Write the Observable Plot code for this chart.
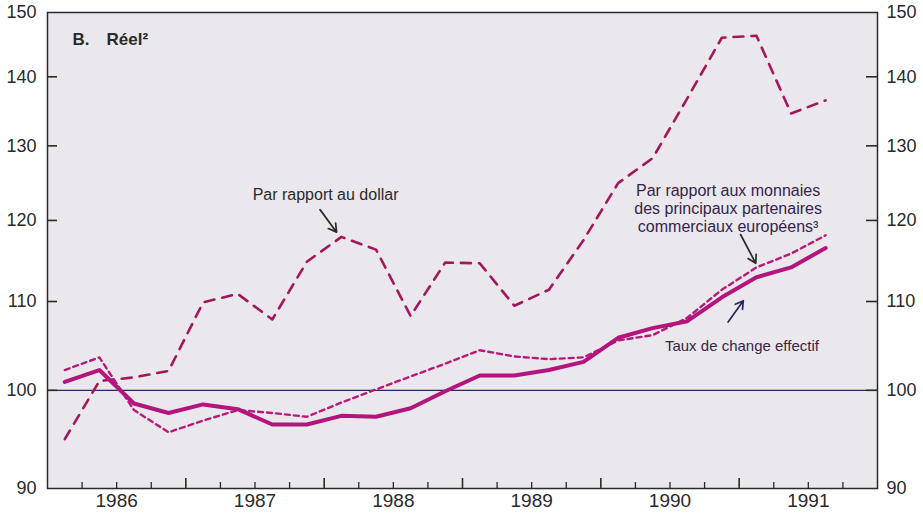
<!DOCTYPE html>
<html><head><meta charset="utf-8">
<script src="https://cdn.jsdelivr.net/npm/d3@7"></script>
<script src="https://cdn.jsdelivr.net/npm/@observablehq/plot@0.6"></script>
<style>
body{margin:0;background:#fff}
#chart{width:923px;height:517px}
</style>
</head><body><div id="chart"></div>
<script>
// Périodes trimestrielles
const periods = ["1986 T1","1986 T2","1986 T3","1986 T4","1987 T1","1987 T2","1987 T3","1987 T4",
  "1988 T1","1988 T2","1988 T3","1988 T4","1989 T1","1989 T2","1989 T3","1989 T4",
  "1990 T1","1990 T2","1990 T3","1990 T4","1991 T1","1991 T2","1991 T3"];
// Taux de change effectif (réel)
const effectif = [100.9,102.2,98.6,97.6,98.5,98.0,96.4,96.4,97.3,97.2,98.1,99.9,101.6,101.6,102.2,103.1,105.8,106.9,107.7,110.5,112.9,114.1,116.5];
// Par rapport aux monnaies des principaux partenaires commerciaux européens
const europe = [102.2,103.6,97.9,95.6,96.8,97.9,97.6,97.2,98.7,100.1,101.5,102.9,104.4,103.7,103.4,103.6,105.5,106.1,108.1,111.4,114.1,115.8,118.1];
// Par rapport au dollar
const dollar = [94.9,101.0,101.4,102.1,109.9,110.9,107.9,114.8,117.9,116.3,108.3,114.7,114.6,109.5,111.4,117.5,124.9,128.3,136.8,146.0,146.3,134.6,136.5];
const yTicks = [90,100,110,120,130,140,150];
const yearLabels = ["1986","1987","1988","1989","1990","1991"];

const toX = p => { const [y, q] = p.split(" T"); return +y + (+q - 0.5) / 4; };
const rows = periods.map((p, i) => ({x: toX(p), effectif: effectif[i], europe: europe[i], dollar: dollar[i]}));
const firstYear = +yearLabels[0];
const lastYear = +yearLabels[yearLabels.length - 1] + 1;
const quarterTicks = d3.range(firstYear * 4 + 1, lastYear * 4).map(k => k / 4).filter(k => k % 1 !== 0);
const yearTicks = d3.range(firstYear + 1, lastYear);
const yearCenters = yearLabels.map(l => +l + 0.5);

const W = 923, H = 517, mL = 47, mR = 46, mT = 12, mB = 29;
const frameW = W - mL - mR, frameH = H - mT - mB;
const ink = "#2a2a2a";
const plotFont = "'Liberation Sans Narrow','Liberation Sans',Arial,sans-serif";
const annFont = "'Liberation Sans',Arial,sans-serif";

const chart = Plot.plot({
  width: W, height: H,
  marginLeft: mL, marginRight: mR, marginTop: mT, marginBottom: mB,
  style: {fontFamily: plotFont, background: "#fff", color: ink},
  x: {type: "linear", domain: [firstYear, lastYear]},
  y: {type: "log", domain: [90, 150]},
  marks: [
    Plot.frame({fill: "#eae8ec", stroke: null}),
    Plot.ruleY([100], {stroke: "#25285a", strokeWidth: 1.3}),
    Plot.line(rows, {x: "x", y: "dollar", stroke: "#a3185c", strokeWidth: 2.6, strokeDasharray: "10,8"}),
    Plot.line(rows, {x: "x", y: "europe", stroke: "#b81a7a", strokeWidth: 2.4, strokeDasharray: "5,4"}),
    Plot.line(rows, {x: "x", y: "effectif", stroke: "#b3157c", strokeWidth: 4, strokeLinejoin: "round"}),
    // inner ticks
    Plot.tickX(quarterTicks, {x: d => d, stroke: ink, strokeWidth: 1.3, insetTop: frameH - 6}),
    Plot.tickX(yearTicks, {x: d => d, stroke: ink, strokeWidth: 1.6, insetTop: frameH - 10}),
    Plot.tickY(yTicks.slice(1, -1), {y: d => d, stroke: ink, strokeWidth: 1.6, insetRight: frameW - 10}),
    Plot.tickY(yTicks.slice(1, -1), {y: d => d, stroke: ink, strokeWidth: 1.6, insetLeft: frameW - 11}),
    Plot.axisY(yTicks, {anchor: "left", tickSize: 0, tickPadding: 11, fontSize: 18, tickFormat: d => String(d), label: null}),
    Plot.axisY(yTicks, {anchor: "right", tickSize: 0, tickPadding: 9, fontSize: 18, tickFormat: d => String(d), label: null}),
    Plot.axisX(yearCenters, {anchor: "bottom", tickSize: 0, tickPadding: 5, fontSize: 19, tickFormat: d => yearLabels[Math.floor(d) - firstYear], label: null}),
    Plot.frame({stroke: ink, strokeWidth: 1.5}),
    // annotations
    Plot.text(["B.\u2003Réel²"], {frameAnchor: "top-left", dx: 25, dy: 27, lineAnchor: "middle", textAnchor: "start", fontWeight: "bold", fontSize: 17, fontFamily: annFont, fill: ink}),
    Plot.text(["Par rapport au dollar"], {x: 1988.01, y: 123.3, fontSize: 16, fontFamily: annFont, fill: ink}),
    Plot.arrow([0], {x1: 1987.97, y1: 121.4, x2: 1988.09, y2: 118.5, stroke: ink, strokeWidth: 1.7, headLength: 8}),
    Plot.text(["Par rapport aux monnaies\ndes principaux partenaires\ncommerciaux européens³"], {x: 1990.92, y: 121.6, fontSize: 16, lineHeight: 1.12, fontFamily: annFont, fill: "#35244f"}),
    Plot.arrow([0], {x1: 1991.01, y1: 118.2, x2: 1991.12, y2: 114.6, stroke: ink, strokeWidth: 1.7, headLength: 8}),
    Plot.text(["Taux de change effectif"], {x: 1991.02, y: 104.9, fontSize: 15, fontFamily: annFont, fill: "#3a2548"}),
    Plot.arrow([0], {x1: 1990.92, y1: 107.6, x2: 1991.03, y2: 110.1, stroke: "#25285a", strokeWidth: 1.7, headLength: 8})
  ]
});
document.getElementById("chart").append(chart);
</script>
</body></html>
